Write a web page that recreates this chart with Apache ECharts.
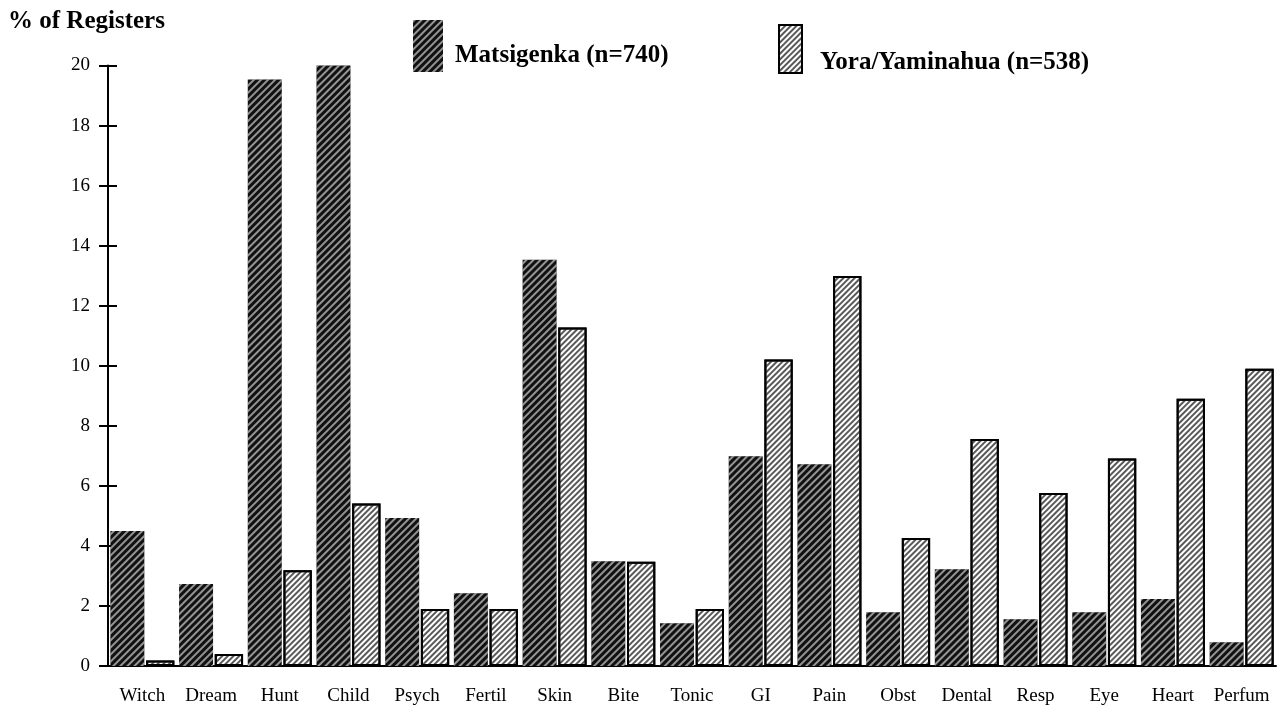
<!DOCTYPE html>
<html>
<head>
<meta charset="utf-8">
<script src="https://cdn.jsdelivr.net/npm/echarts@6/dist/echarts.min.js"></script>
<style>
html,body{margin:0;padding:0;background:#fff;}
#chart{width:1281px;height:712px;}
</style>
</head>
<body>
<div id="chart"></div>
<script>
const categories = ['Witch','Dream','Hunt','Child','Psych','Fertil','Skin','Bite','Tonic','GI','Pain','Obst','Dental','Resp','Eye','Heart','Perfum'];
const matsigenka = [4.5,2.73,19.53,20.0,4.93,2.42,13.53,3.49,1.42,6.99,6.72,1.79,3.22,1.56,1.79,2.23,0.79];
const yora = [0.18,0.4,3.19,5.41,1.9,1.9,11.27,3.47,1.9,10.21,12.99,4.26,7.56,5.76,6.91,8.9,9.9];
const seriesNames = ['Matsigenka (n=740)', 'Yora/Yaminahua (n=538)'];
const yMin = 0, yMax = 20, yStep = 2;
const titleText = '% of Registers';

const FONT = '"Liberation Serif", "Times New Roman", serif';

const darkDecal = {
  symbol: 'rect', symbolSize: 1,
  color: 'rgba(255,255,255,0.55)',
  dashArrayX: [1, 0], dashArrayY: [1.4, 2.4],
  rotation: -Math.PI / 4
};
const lightDecal = {
  symbol: 'rect', symbolSize: 1,
  color: 'rgba(60,60,60,0.85)',
  dashArrayX: [1, 0], dashArrayY: [1.4, 1.9],
  rotation: -Math.PI / 4
};

function legendText(padTop, padLeft) {
  return {
    fontFamily: FONT, fontSize: 25, fontWeight: 'bold', color: '#000',
    rich: {t: {fontFamily: FONT, fontSize: 25, fontWeight: 'bold', color: '#000', padding: [padTop, 0, 0, padLeft]}}
  };
}

const chart = echarts.init(document.getElementById('chart'), null, {renderer: 'canvas'});
chart.setOption({
  animation: false,
  backgroundColor: '#fff',
  title: {
    text: titleText, left: 8, top: 9, padding: 0,
    textStyle: {fontFamily: FONT, fontSize: 25, fontWeight: 'bold', color: '#000'}
  },
  legend: [
    {
      data: [seriesNames[0]], left: 413, top: 20, padding: 0, itemWidth: 30, itemHeight: 52,
      icon: 'rect', selectedMode: false,
      formatter: '{t|{name}}',
      textStyle: legendText(19, 7)
    },
    {
      data: [seriesNames[1]], left: 778, top: 24, padding: 0, itemWidth: 23, itemHeight: 48,
      icon: 'rect', selectedMode: false,
      formatter: '{t|{name}}',
      textStyle: legendText(27, 13)
    }
  ],
  grid: {left: 108, right: 5, top: 65.5, bottom: 46, containLabel: false},
  xAxis: {
    type: 'category', data: categories,
    axisLine: {show: true, lineStyle: {color: '#000', width: 2}},
    axisTick: {show: false},
    axisLabel: {fontFamily: FONT, fontSize: 19, color: '#000', margin: 21, interval: 0},
    splitLine: {show: false}
  },
  yAxis: [
    {
      type: 'value', min: yMin, max: yMax, interval: yStep,
      axisLine: {show: true, lineStyle: {color: '#000', width: 2}},
      axisTick: {show: true, length: 9, lineStyle: {color: '#000', width: 2}},
      axisLabel: {fontFamily: FONT, fontSize: 19, color: '#000', margin: 18},
      splitLine: {show: false}
    },
    {
      type: 'value', min: yMin, max: yMax, interval: yStep, position: 'left', offset: 0,
      axisLine: {show: false},
      axisTick: {show: true, inside: true, length: 9, lineStyle: {color: '#000', width: 2}},
      axisLabel: {show: false},
      splitLine: {show: false}
    }
  ],
  series: [
    {
      name: seriesNames[0], type: 'bar', data: matsigenka,
      barWidth: 34, barGap: '5%',
      itemStyle: {color: '#111111', decal: darkDecal}
    },
    {
      name: seriesNames[1], type: 'bar', data: yora,
      barWidth: 28.3,
      itemStyle: {color: '#ffffff', borderColor: '#000', borderWidth: 2, decal: lightDecal}
    }
  ]
});
</script>
</body>
</html>
